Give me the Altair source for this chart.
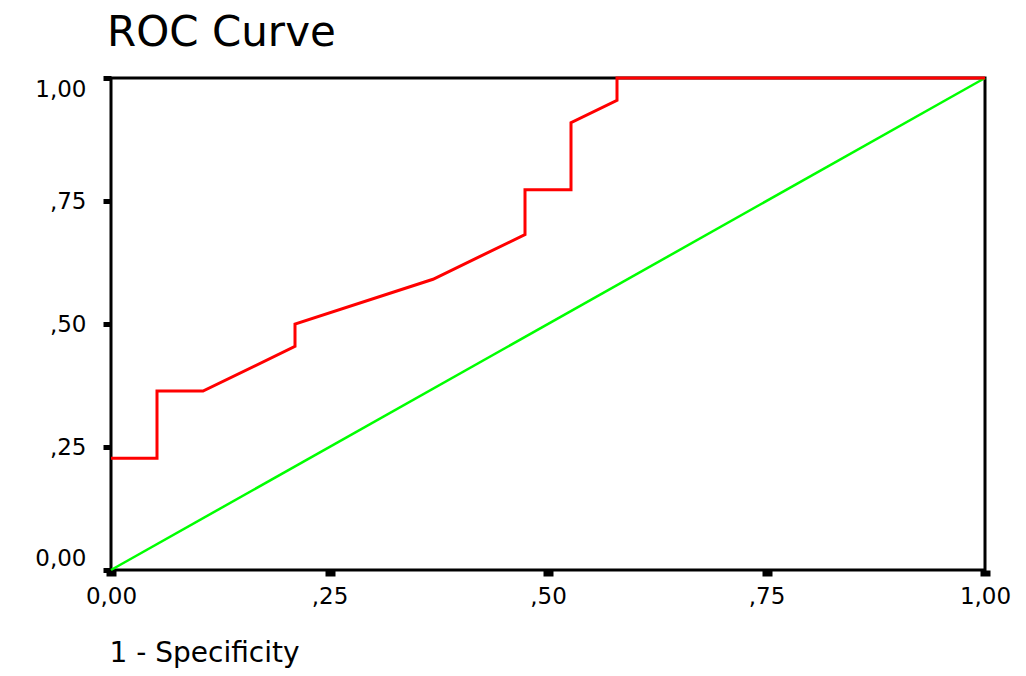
import altair as alt
import pandas as pd

# ROC curve points (1 - specificity, sensitivity)
fpr = [0.0, 1/19, 1/19, 2/19, 4/19, 4/19, 7/19, 9/19, 9/19, 10/19, 10/19, 11/19, 11/19, 1.0]
tpr = [5/22, 5/22, 8/22, 8/22, 10/22, 11/22, 13/22, 15/22, 17/22, 17/22, 20/22, 21/22, 1.0, 1.0]

# reference diagonal
diag_x = [0.0, 1.0]
diag_y = [0.0, 1.0]

tick_values = [0.0, 0.25, 0.5, 0.75, 1.0]
tick_labels = ["0,00", ",25", ",50", ",75", "1,00"]

title_text = ["ROC Curve"]
x_title = "1 - Specificity"

roc = pd.DataFrame({"x": fpr, "y": tpr, "i": list(range(len(fpr)))})
diag = pd.DataFrame({"x": diag_x, "y": diag_y, "i": list(range(len(diag_x)))})
title_df = pd.DataFrame({"t": title_text})

label_expr = " : ".join(
    f"datum.value == {v} ? '{l}'" for v, l in zip(tick_values, tick_labels)
) + " : ''"

FONT = "DejaVu Sans"

x_enc = alt.X(
    "x:Q",
    scale=alt.Scale(domain=[0, 1], nice=False, zero=False),
    axis=alt.Axis(
        values=tick_values,
        labelExpr=label_expr,
        title=x_title,
        grid=False,
        domain=False,
        tickSize=6,
        tickWidth=10,
        tickColor="black",
        labelPadding=9,
        labelFontSize=23,
        labelFont=FONT,
        labelColor="black",
        labelFlush=False,
        titleFont=FONT,
        titleFontSize=28,
        titleFontWeight="normal",
        titleColor="black",
        titleAnchor="start",
        titleAlign="left",
        titleBaseline="alphabetic",
        titleX=-2,
        titleY=91,
    ),
)
y_enc = alt.Y(
    "y:Q",
    scale=alt.Scale(domain=[0, 1], nice=False, zero=False),
    axis=alt.Axis(
        values=tick_values,
        labelExpr=label_expr,
        title=None,
        grid=False,
        domain=False,
        tickSize=8,
        tickWidth=5,
        tickColor="black",
        labelPadding=17,
        labelFontSize=23,
        labelFont=FONT,
        labelColor="black",
        labelFlush=True,
    ),
)

diag_line = alt.Chart(diag).mark_line(color="#00ff00", strokeWidth=2.5).encode(
    x=x_enc, y=y_enc, order="i:Q"
)
roc_line = alt.Chart(roc).mark_line(color="#ff0000", strokeWidth=3).encode(
    x=x_enc, y=y_enc, order="i:Q"
)
title_mark = alt.Chart(title_df).mark_text(
    align="left",
    baseline="alphabetic",
    font=FONT,
    fontSize=42,
    color="black",
).encode(text="t:N", x=alt.value(-4), y=alt.value(-32))

chart = (
    alt.layer(diag_line, roc_line, title_mark)
    .properties(
        width=874,
        height=492,
        autosize=alt.AutoSizeParams(type="none"),
        padding={"left": 103, "top": 70, "right": 33, "bottom": 98},
    )
    .configure_view(stroke="black", strokeWidth=3)
)

chart.save("out.html", embed_options={"renderer": "svg", "actions": False})
